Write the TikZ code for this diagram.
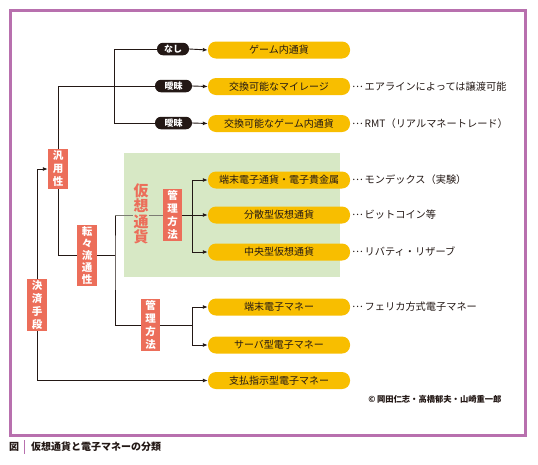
\documentclass[tikz,border=0pt]{standalone}
\usepackage{fontspec}
\setmainfont{Noto Sans CJK JP}
\usetikzlibrary{arrows.meta}
\definecolor{framec}{HTML}{B870AE}
\definecolor{pillY}{HTML}{F8BE00}
\definecolor{salmon}{HTML}{EC6E5A}
\definecolor{greenbg}{HTML}{D7E8C5}
\definecolor{ink}{HTML}{231815}
\definecolor{grayline}{HTML}{7C7C74}
\newcommand{\mydots}{\raisebox{0.3em}{…}\,}
\begin{document}
\begin{tikzpicture}[x=1pt,y=-1pt,
  pill/.style={fill=pillY,rounded corners=8pt,minimum width=142pt,minimum height=17pt,inner sep=0pt,font=\fontsize{10}{12}\selectfont,text=ink},
  tag/.style={fill=ink,rounded corners=6pt,minimum height=12.5pt,inner sep=0pt,text=white,font=\fontsize{9}{11}\selectfont\bfseries},
  redbox/.style={fill=salmon,text=white,inner sep=0pt,align=center,minimum width=20pt,font=\fontsize{10.5}{13}\selectfont\bfseries},
  note/.style={anchor=west,inner sep=0pt,text=ink,font=\fontsize{10.2}{12}\selectfont},
  line/.style={draw=ink,line width=0.9pt},
  arr/.style={line,-{Latex[length=5pt,width=4pt]}},
  gline/.style={draw=grayline,line width=0.9pt}
]
\useasboundingbox (0,0) rectangle (538,464);
\fill[white] (0,0) rectangle (538,464);
\draw[framec,line width=3pt] (10,10.5) rectangle (525,435.5);
\fill[greenbg] (124,153) rectangle (340,277);

% pills
\node[pill] (game) at (279,50) {ゲーム内通貨};
\node[pill] (mile) at (279,86.5) {交換可能なマイレージ};
\node[pill] (gamex) at (279,123.5) {交換可能なゲーム内通貨};
\node[pill] (tanmatsu) at (279,180) {端末電子通貨・電子貴金属};
\node[pill] (bunsan) at (279,215) {分散型仮想通貨};
\node[pill] (chuo) at (279,252) {中央型仮想通貨};
\node[pill] (emoney) at (279,307) {端末電子マネー};
\node[pill] (server) at (279,345) {サーバ型電子マネー};
\node[pill] (shiharai) at (279,380.5) {支払指示型電子マネー};

% tags
\node[tag,minimum width=32pt] (nashi) at (173,49) {なし};
\node[tag,minimum width=37pt] (aimai1) at (173.5,86) {曖昧};
\node[tag,minimum width=37pt] (aimai2) at (173.5,123) {曖昧};

% red boxes
\node[redbox,minimum height=40pt] (hanyo) at (58,169) {汎\\用\\性};
\node[redbox,minimum height=61pt,font=\fontsize{10.5}{12}\selectfont\bfseries] (tenten) at (87,255.5) {転\\々\\流\\通\\性};
\node[redbox,minimum height=52pt] (kessai) at (37,305) {決\\済\\手\\段};
\node[redbox,minimum width=19pt,minimum height=52pt] (kanri1) at (172.5,215) {管\\理\\方\\法};
\node[redbox,minimum width=19pt,minimum height=52pt] (kanri2) at (150.5,325) {管\\理\\方\\法};
\node[text=salmon,align=center,inner sep=0pt,font=\fontsize{15}{15.5}\selectfont\bfseries] (kaso) at (141,214) {仮\\想\\通\\貨};

% connectors top
\draw[line] (nashi.west) -- ++(-42,0) |- (aimai2.west);
\draw[line] (hanyo.north) |- (aimai1.west);
\draw[arr] (nashi.east) -- (game.west);
\draw[arr] (aimai1.east) -- (mile.west);
\draw[arr] (aimai2.east) -- (gamex.west);

% left
\draw[arr] (kessai.north) |- (hanyo.west);
\draw[arr] (kessai.south) |- (shiharai.west);
\draw[line] (hanyo.south) |- (tenten.west);

% tenten
\coordinate (t1) at (115,255.5);
\coordinate (t0) at (115,215);
\draw[line] (tenten.east) -- (t1);
\draw[line] (t0) -- (t1) |- (kanri2.west);
\draw[gline] (t0) -- (kaso.west |- t0);
\draw[gline] (kaso.east |- t0) -- (kanri1.west);

% kanri1
\coordinate (k1) at (192,215);
\draw[arr] (kanri1.east) -- (bunsan.west);
\draw[arr] (k1) |- (tanmatsu.west);
\draw[arr] (k1) |- (chuo.west);

% kanri2
\coordinate (k2) at (192,325);
\draw[line] (kanri2.east) -- (k2);
\draw[arr] (k2) |- (emoney.west);
\draw[arr] (k2) |- (server.west);

% notes
\node[note] (n1) at (352,87) {\mydots エアラインによっては譲渡可能};
\node[note] (n2) at (352,124) {\mydots RMT（リアルマネートレード）};
\node[note] (n3) at (352,180) {\mydots モンデックス（実験）};
\node[note] (n4) at (352,215) {\mydots ビットコイン等};
\node[note] (n5) at (352,252) {\mydots リバティ・リザーブ};
\node[note] (n6) at (352,307) {\mydots フェリカ方式電子マネー};
\node[inner sep=0pt,text=ink,font=\fontsize{8.3}{10}\selectfont\bfseries] (copy) at (435,399) {©\,岡田仁志・高橋郁夫・山崎重一郎};

% caption
\node[anchor=west,inner sep=0pt,text=ink,font=\fontsize{10}{12}\selectfont\bfseries] (fig) at (9,447) {図};
\draw[framec,line width=1pt] (24.5,440) -- (24.5,454);
\node[anchor=west,inner sep=0pt,text=ink,font=\fontsize{10}{12}\selectfont\bfseries] (cap) at (31,447) {仮想通貨と電子マネーの分類};
\end{tikzpicture}
\end{document}
